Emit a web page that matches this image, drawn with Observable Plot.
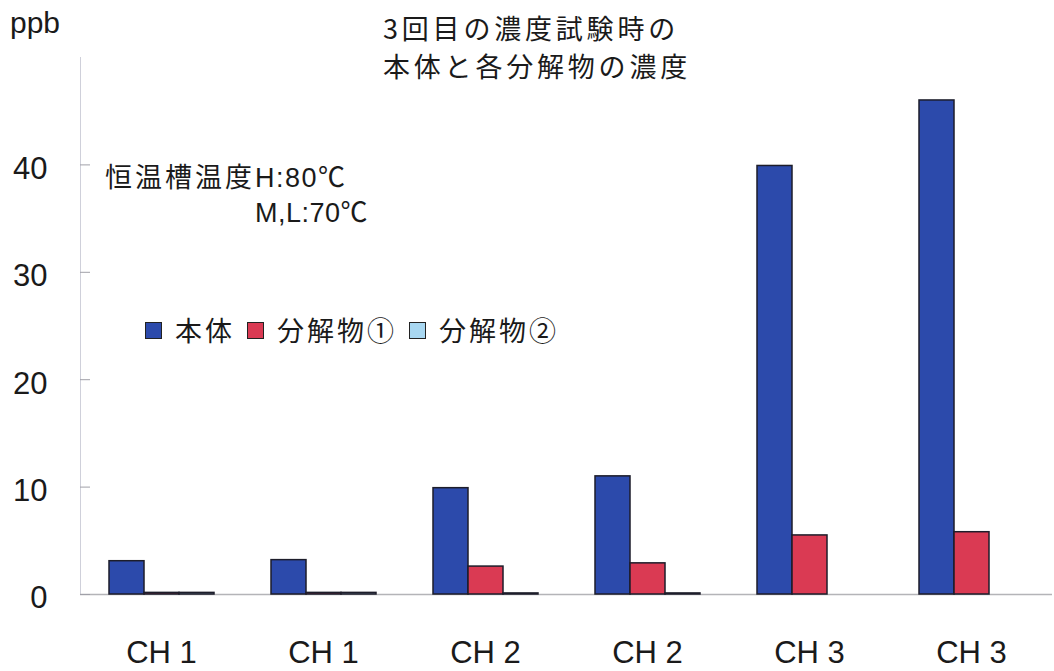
<!DOCTYPE html>
<html>
<head>
<meta charset="utf-8">
<script src="https://cdn.jsdelivr.net/npm/d3@7"></script>
<script src="https://cdn.jsdelivr.net/npm/@observablehq/plot@0.6"></script>
<style>
  html, body { margin: 0; padding: 0; background: #ffffff; }
  #chart { position: relative; width: 1054px; height: 671px; overflow: hidden;
           font-family: "Liberation Sans", Arial, "Noto Sans CJK JP", sans-serif; color: #1a1a1a; }
  #chart svg { position: absolute; left: 0; top: 0; }
  .overlay { position: absolute; white-space: pre; }
  #unit { left: 10px; top: 8px; font-size: 30px; line-height: 30px; }
  #title { left: 383px; top: 9px; font-family: "Noto Sans CJK JP", sans-serif; font-size: 27px;
           line-height: 38px; letter-spacing: 3.8px; }
  #note1 { left: 105px; top: 163px; font-size: 27px; line-height: 30px; letter-spacing: 3px; }
  #note1 .lat { letter-spacing: 1.5px; }
  #note2 { left: 255px; top: 198px; font-size: 27px; line-height: 30px; letter-spacing: 0.5px; }
  #legend { left: 145px; top: 315px; display: flex; align-items: center; height: 30px; }
  #legend .sw { width: 15px; height: 15px; border: 1px solid #222; margin-right: 13px; box-sizing: content-box; }
  #legend .lb { font-family: "Noto Sans CJK JP", sans-serif; font-size: 27px; line-height: 30px;
                letter-spacing: 3px; margin-right: 12px; }
</style>
</head>
<body>
<div id="chart">
  <div class="overlay" id="unit">ppb</div>
  <div class="overlay" id="title">3回目の濃度試験時の
本体と各分解物の濃度</div>
  <div class="overlay" id="note1">恒温槽温度<span class="lat">H:80℃</span></div>
  <div class="overlay" id="note2">M,L:70℃</div>
  <div class="overlay" id="legend"></div>
</div>
<script>
// Measurement groups (two runs per channel) and their axis labels
const groups = ["run1", "run2", "run3", "run4", "run5", "run6"];
const groupLabels = ["CH 1", "CH 1", "CH 2", "CH 2", "CH 3", "CH 3"];

// Series: parent compound and its two decomposition products
const seriesNames = ["本体", "分解物①", "分解物②"];
const seriesColors = ["#2c4aab", "#da3a53", "#a8d7f1"];

// Concentrations in ppb
const parentValues = [3.1, 3.2, 9.9, 11.0, 39.9, 46.0];
const product1Values = [0.15, 0.15, 2.6, 2.9, 5.5, 5.8];
const product2Values = [0.15, 0.15, 0.1, 0.1, 0, 0];

const yTicks = [0, 10, 20, 30, 40];

const seriesValues = [parentValues, product1Values, product2Values];
const rows = [];
groups.forEach((g, i) => {
  seriesNames.forEach((s, j) => rows.push({group: g, series: s, value: seriesValues[j][i]}));
});
const labelOf = new Map(groups.map((g, i) => [g, groupLabels[i]]));

const plot = Plot.plot({
  width: 1054,
  height: 671,
  marginTop: 57,
  marginBottom: 77,
  marginLeft: 78,
  marginRight: 0,
  style: {fontFamily: '"Liberation Sans", Arial, sans-serif', color: "#1a1a1a", background: "transparent", overflow: "visible"},
  fx: {domain: groups, paddingInner: 0, paddingOuter: 0, axis: null, label: null},
  x: {domain: seriesNames, paddingInner: 0, paddingOuter: 0.76, axis: null, label: null},
  y: {domain: [0, 50], axis: null, label: null},
  color: {domain: seriesNames, range: seriesColors},
  marks: [
    Plot.frame({anchor: "left", facet: "super", stroke: "#cfd0da"}),
    Plot.ruleY([0], {stroke: "#b4b4b8", strokeWidth: 1.5}),
    Plot.barY(rows, {fx: "group", x: "series", y: "value", fill: "series", stroke: "#1d1d2a", strokeWidth: 1.5}),
    Plot.axisY({ticks: yTicks, tickSize: 0, tickPadding: 33, fontSize: 31, dy: 4, label: null}),
    Plot.axisY({ticks: yTicks, tickSize: 10, dx: 10, tickFormat: () => "", stroke: "#a0a0a8", label: null}),
    Plot.axisFx({anchor: "bottom", tickSize: 0, tickPadding: 46, fontSize: 31, label: null, tickFormat: (k) => labelOf.get(k)})
  ]
});
document.getElementById("chart").appendChild(plot);

// Legend swatches for the three series
const legend = document.getElementById("legend");
seriesNames.forEach((s, j) => {
  const sw = document.createElement("span");
  sw.className = "sw";
  sw.style.background = seriesColors[j];
  const lb = document.createElement("span");
  lb.className = "lb";
  lb.textContent = s;
  legend.appendChild(sw);
  legend.appendChild(lb);
});
</script>
</body>
</html>
